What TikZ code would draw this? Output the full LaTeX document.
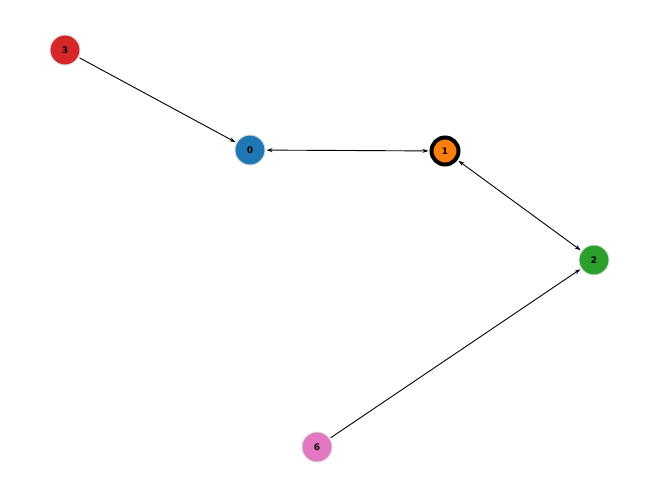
\documentclass[tikz,border=0pt]{standalone}
\usepackage{fontspec}
\setmainfont{DejaVu Sans}
\usetikzlibrary{arrows.meta}
\definecolor{tblue}{HTML}{1F77B4}
\definecolor{torange}{HTML}{FF7F0E}
\definecolor{tgreen}{HTML}{2CA02C}
\definecolor{tred}{HTML}{D62728}
\definecolor{tpink}{HTML}{E377C2}
\begin{document}
\begin{tikzpicture}[x=1pt,y=-1pt,
  vtx/.style={circle,minimum size=30pt,inner sep=0pt,draw=white!85!black,line width=1pt,font=\bfseries\fontsize{9}{10}\selectfont},
  edge/.style={draw=black,line width=0.9pt,-{Stealth[length=6pt,width=4pt]},shorten >=1pt,shorten <=1pt},
  bedge/.style={edge,{Stealth[length=6pt,width=4pt]}-{Stealth[length=6pt,width=4pt]}}]
\useasboundingbox (0,0) rectangle (660,499);
\node[vtx,fill=tred] (n3) at (65,50) {3};
\node[vtx,fill=tblue] (n0) at (250,150) {0};
\node[vtx,fill=torange,draw=black,line width=4pt,minimum size=27pt] (n1) at (445,151) {1};
\node[vtx,fill=tgreen] (n2) at (594,260) {2};
\node[vtx,fill=tpink] (n6) at (317,447) {6};
\draw[edge] (n3) -- (n0);
\draw[bedge] (n0) -- (n1);
\draw[bedge] (n1) -- (n2);
\draw[edge] (n6) -- (n2);
\end{tikzpicture}
\end{document}
